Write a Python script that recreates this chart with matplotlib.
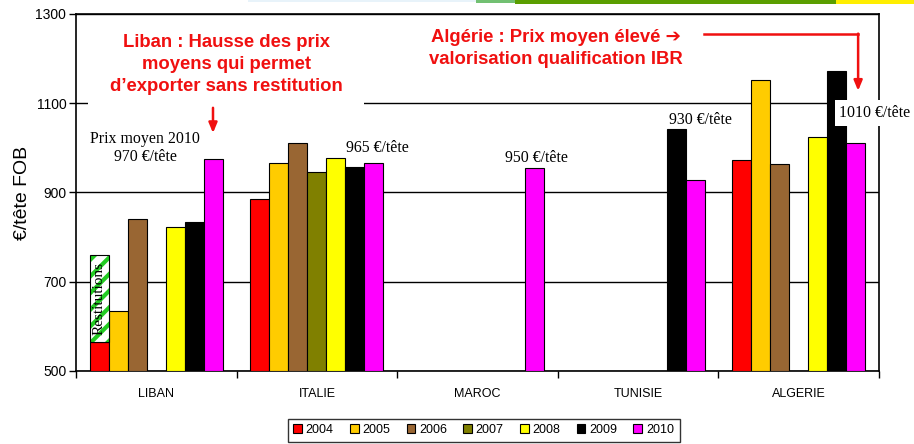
"""Prix moyens à l'export (€/tête FOB) par destination, 2004-2010."""
import numpy as np
import matplotlib
matplotlib.use("Agg")
import matplotlib.pyplot as plt
from matplotlib.patches import Patch, Rectangle

pays = ["LIBAN", "ITALIE", "MAROC", "TUNISIE", "ALGERIE"]
annees = ["2004", "2005", "2006", "2007", "2008", "2009", "2010"]
couleurs = ["#FF0000", "#FFCC00", "#996633", "#808000", "#FFFF00", "#000000", "#FF00FF"]

nan = np.nan
# une liste par année, une valeur par pays
prix_2004 = [565, 886, nan, nan, 972]
prix_2005 = [635, 966, nan, nan, 1152]
prix_2006 = [841, 1012, nan, nan, 963]
prix_2007 = [nan, 945, nan, nan, nan]
prix_2008 = [823, 977, nan, nan, 1024]
prix_2009 = [833, 958, nan, 1042, 1173]
prix_2010 = [974, 966, 956, 928, 1011]
series = [prix_2004, prix_2005, prix_2006, prix_2007, prix_2008, prix_2009, prix_2010]

# Liban 2004 : restitutions au-dessus du prix
restitution_bas = 565
restitution_haut = 760

plt.rcParams["font.family"] = ["Liberation Sans", "DejaVu Sans"]
plt.rcParams["hatch.linewidth"] = 3.0

fig = plt.figure(figsize=(9.14, 4.44), dpi=100)
ax = fig.add_axes([76 / 914, 1 - 371 / 444, 803 / 914, 357 / 444])

x = np.arange(len(pays))
larg = 0.1183
for k, (val, c) in enumerate(zip(series, couleurs)):
    ax.bar(x + (k - 3) * larg, np.array(val) - 500, bottom=500, width=larg,
           color=c, edgecolor="black", linewidth=0.8, zorder=3)

# restitutions hachurées
ax.bar(x[0] - 3 * larg, restitution_haut - restitution_bas, bottom=restitution_bas,
       width=larg, color="white", edgecolor="#22CC22", hatch="//", linewidth=0, zorder=3)
ax.bar(x[0] - 3 * larg, restitution_haut - restitution_bas, bottom=restitution_bas,
       width=larg, fill=False, edgecolor="black", linewidth=0.8, zorder=4)
ax.text(x[0] - 3 * larg, (restitution_bas + restitution_haut) / 2, "Restitutions",
        rotation=90, ha="center", va="center", fontsize=11,
        family="Liberation Serif", zorder=5)

ax.set_xlim(-0.5, 4.5)
ax.set_ylim(500, 1300)
ax.set_yticks([500, 700, 900, 1100, 1300])
ax.set_xticks(np.arange(-0.5, 5, 1))
ax.set_xticklabels([])
ax.set_xticks(x, minor=True)
ax.set_xticklabels(pays, minor=True, fontsize=9)
ax.tick_params(axis="x", which="minor", length=0, pad=12)
ax.tick_params(axis="x", which="major", length=5, width=1, direction="out")
ax.tick_params(axis="y", length=5, width=1, labelsize=10, pad=2)
ax.yaxis.grid(True, color="black", linewidth=1, zorder=0)
ax.set_axisbelow(True)
for s in ax.spines.values():
    s.set_linewidth(1.2)
ax.set_ylabel("€/tête FOB", fontsize=14, labelpad=3)

# étiquettes de prix
serif = dict(family="Liberation Serif", fontsize=11.4, ha="center", va="center", zorder=6)
ax.text(-0.07, 1000, "Prix moyen 2010\n970 €/tête", linespacing=1.15, **serif)
ax.text(1.374, 1000, "965 €/tête", **serif)
ax.text(2.37, 977, "950 €/tête", **serif)
ax.text(3.39, 1062, "930 €/tête", **serif)
ax.text(4.475, 1078, "1010 €/tête", clip_on=False,
        bbox=dict(boxstyle="square,pad=0.3", facecolor="white", edgecolor="none"), **serif)

# commentaires en rouge
rouge = "#F01010"
# fond blanc du cadre de texte (masque la grille)
ax.add_patch(Rectangle((-0.425, 1085), 1.718, 200, facecolor="white",
                       edgecolor="none", zorder=1))
ax.text(0.434, 1186, "Liban : Hausse des prix\nmoyens qui permet\nd’exporter sans restitution",
        ha="center", va="center", color=rouge, fontsize=13.3, fontweight="bold",
        linespacing=1.38, zorder=6)
ax.annotate("", xy=(0.353, 1027), xytext=(0.353, 1096),
            arrowprops=dict(arrowstyle="-|>,head_width=0.25,head_length=0.6",
                            color=rouge, lw=1.8), zorder=6)

ax.text(2.489, 1222, "Algérie : Prix moyen élevé ➔\nvalorisation qualification IBR",
        ha="center", va="center", color=rouge, fontsize=13.3, fontweight="bold",
        linespacing=1.4, zorder=6)
ax.plot([3.41, 4.37], [1255, 1255], color=rouge, lw=1.8, zorder=6, clip_on=False)
ax.annotate("", xy=(4.37, 1128), xytext=(4.37, 1256),
            arrowprops=dict(arrowstyle="-|>,head_width=0.25,head_length=0.6",
                            color=rouge, lw=1.8, shrinkA=0, shrinkB=0), zorder=6)

# légende
poignees = [Patch(facecolor=c, edgecolor="black", linewidth=0.8) for c in couleurs]
fig.legend(poignees, annees, loc="center", bbox_to_anchor=(0.529, 0.031), ncol=7,
           fontsize=9, frameon=True, fancybox=False, edgecolor="black",
           handlelength=0.7, handleheight=0.7, handletextpad=0.3, columnspacing=1.3,
           borderpad=0.45)

# bandeau du haut de la diapo
for x0, x1, h, c in [(248, 476, 2, "#E8F3FA"), (476, 515, 3, "#72C072"),
                     (515, 836, 4, "#5A9E00"), (836, 914, 4, "#FFEE00")]:
    fig.add_artist(Rectangle((x0 / 914, 1 - h / 444), (x1 - x0) / 914, h / 444,
                             transform=fig.transFigure, color=c, lw=0))

fig.savefig("out.png", dpi=100)
